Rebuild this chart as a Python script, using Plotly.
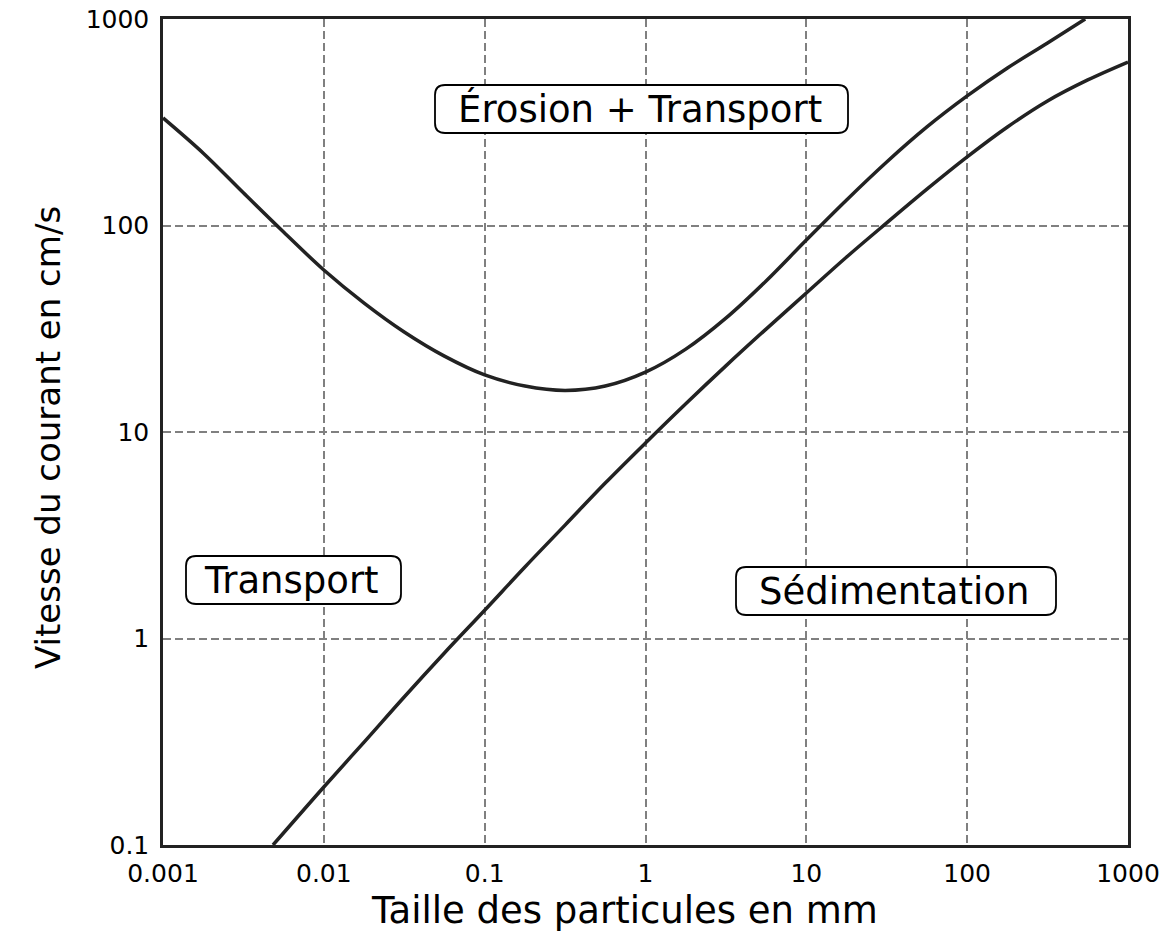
import plotly.graph_objects as go

# courbe d'érosion (taille en mm, vitesse en cm/s)
erosion_x = [0.001, 0.00178, 0.00316, 0.00562, 0.01, 0.0178, 0.0316, 0.0562, 0.1, 0.178, 0.316, 0.562,
             1, 1.78, 3.16, 5.62, 10, 17.8, 31.6, 56.2, 100, 178, 316, 542]
erosion_y = [332, 224, 144, 93, 60.9, 42.1, 30.5, 23.3, 18.9, 16.7, 15.9, 16.7,
             19.5, 25.2, 35.6, 53.9, 85.1, 133, 203, 300, 424, 579, 765, 1000]

# courbe de sédimentation
sedim_x = [0.00483, 0.01, 0.0178, 0.0316, 0.0562, 0.1, 0.178, 0.316, 0.562, 1, 1.78, 3.16,
           5.62, 10, 17.8, 31.6, 56.2, 100, 178, 316, 562, 1000]
sedim_y = [0.1, 0.191, 0.315, 0.521, 0.851, 1.37, 2.22, 3.54, 5.66, 8.85, 13.7, 20.9,
           31.5, 47.1, 70.4, 103, 150, 215, 300, 401, 507, 619]

x_ticks = [0.001, 0.01, 0.1, 1, 10, 100, 1000]
x_ticktext = ['0.001', '0.01', '0.1', '1', '10', '100', '1000']
y_ticks = [0.1, 1, 10, 100, 1000]
y_ticktext = ['0.1', '1', '10', '100', '1000']

zones = ['Érosion + Transport', 'Transport', 'Sédimentation']

W, H = 1176, 932
L, R, T, B = 163, 48, 19, 87
PW, PH = W - L - R, H - T - B
FONT = 'DejaVu Sans'
INK = '#222222'

def px_to_paper(px, py):
    return (px - L) / PW, (H - B - py) / PH

def rounded_box(x0, x1, y0, y1, r=10):
    # rectangle arrondi en coordonnées "paper", à partir de pixels
    rx, ry = r / PW, r / PH
    a, top = px_to_paper(x0, y0)
    b, bot = px_to_paper(x1, y1)
    path = (f'M {a+rx},{top} L {b-rx},{top} Q {b},{top} {b},{top-ry} '
            f'L {b},{bot+ry} Q {b},{bot} {b-rx},{bot} '
            f'L {a+rx},{bot} Q {a},{bot} {a},{bot+ry} '
            f'L {a},{top-ry} Q {a},{top} {a+rx},{top} Z')
    return dict(type='path', xref='paper', yref='paper', path=path,
                line=dict(color='black', width=1.8), fillcolor='white', layer='above')

fig = go.Figure()
for xs, ys in [(erosion_x, erosion_y), (sedim_x, sedim_y)]:
    fig.add_trace(go.Scatter(x=xs, y=ys, mode='lines',
                             line=dict(color=INK, width=3.5, shape='spline', smoothing=1.0),
                             showlegend=False, hoverinfo='skip'))

boxes = [(435, 848, 85, 133), (186, 401, 556, 604), (736, 1056, 567, 615)]
for label, (x0, x1, y0, y1) in zip(zones, boxes):
    fig.add_shape(rounded_box(x0, x1, y0, y1))
    cx, cy = px_to_paper((x0 + x1) / 2 - 2, (y0 + y1) / 2)
    fig.add_annotation(x=cx, y=cy, xref='paper', yref='paper', text=label,
                       showarrow=False, xanchor='center', yanchor='middle',
                       font=dict(family=FONT, size=37, color='black'))

# titres des axes
tx, ty = px_to_paper(624, 910)
fig.add_annotation(x=tx, y=ty, xref='paper', yref='paper', text='Taille des particules en mm',
                   showarrow=False, xanchor='center', yanchor='middle',
                   font=dict(family=FONT, size=37, color='black'))
tx, ty = px_to_paper(48, 438)
fig.add_annotation(x=tx, y=ty, xref='paper', yref='paper', text='Vitesse du courant en cm/s',
                   showarrow=False, xanchor='center', yanchor='middle', textangle=-90,
                   font=dict(family=FONT, size=34, color='black'))

axis_common = dict(type='log', showline=True, mirror=True, linecolor=INK, linewidth=2.5,
                   showgrid=True, gridcolor='#808080', gridwidth=2, griddash='8px,4px',
                   zeroline=False, ticks='', automargin=False,
                   tickfont=dict(family=FONT, size=25, color='black'))

fig.update_xaxes(range=[-3, 3], tickvals=x_ticks, ticktext=x_ticktext, ticklabelstandoff=4, **axis_common)
fig.update_yaxes(range=[-1, 3], tickvals=y_ticks, ticktext=y_ticktext, ticklabelstandoff=6, **axis_common)

fig.update_layout(width=W, height=H, margin=dict(l=L, r=R, t=T, b=B),
                  plot_bgcolor='white', paper_bgcolor='white',
                  font=dict(family=FONT, color='black'))

# la page n'a pas de marge : la figure remplit exactement la fenêtre
fig.write_html('out.html', config={'displayModeBar': False},
               post_script="document.body.style.margin='0';")
